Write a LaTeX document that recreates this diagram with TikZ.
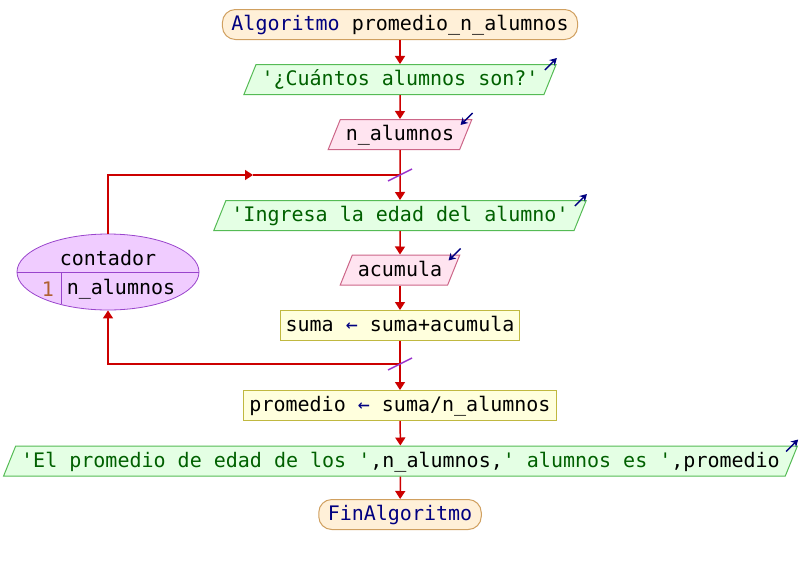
\documentclass[tikz,border=0pt]{standalone}
\usepackage{fontspec}
\setmonofont{DejaVu Sans Mono}
\usetikzlibrary{shapes.geometric,arrows.meta}

\definecolor{flowred}{HTML}{CC0000}
\definecolor{keynavy}{HTML}{000080}
\definecolor{strgreen}{HTML}{006000}
\definecolor{cutpurple}{HTML}{9933CC}
\definecolor{endfill}{HTML}{FFF0D8}
\definecolor{enddraw}{HTML}{D0A060}
\definecolor{outfill}{HTML}{E4FFE4}
\definecolor{outdraw}{HTML}{55BB55}
\definecolor{infill}{HTML}{FFE4F0}
\definecolor{indraw}{HTML}{CC6688}
\definecolor{asgfill}{HTML}{FFFFDD}
\definecolor{asgdraw}{HTML}{C0B840}
\definecolor{cntfill}{HTML}{F0CCFF}
\definecolor{cntdraw}{HTML}{9944CC}
\definecolor{numbrown}{HTML}{B06030}

\begin{document}
\begin{tikzpicture}
[
	x=1pt, y=-1pt,
	font=\ttfamily\fontsize{20}{24}\selectfont,
	box/.style={draw,line width=1pt,text height=16pt,text depth=4pt,inner ysep=5pt,inner xsep=5.5pt},
	endbox/.style={box,rounded corners=13pt,inner xsep=9pt,draw=enddraw,fill=endfill},
	outbox/.style={box,trapezium,trapezium left angle=68,trapezium right angle=112,draw=outdraw,fill=outfill,text=strgreen},
	inbox/.style={box,trapezium,trapezium left angle=68,trapezium right angle=112,draw=indraw,fill=infill},
	asgbox/.style={box,draw=asgdraw,fill=asgfill},
	cntbox/.style={ellipse,draw=cntdraw,fill=cntfill,line width=0.8pt,inner sep=0pt,minimum width=182pt,minimum height=76pt},
	flow/.style={flowred,line width=1.5pt,-{Triangle[length=8pt,width=10pt]}},
	link/.style={flowred,line width=1.5pt},
	cut/.style={cutpurple,line width=1.5pt},
	outmark/.style={keynavy,line width=1.4pt,-{Stealth[length=7pt,width=8pt]}},
]

	\useasboundingbox (0,0) rectangle (800,565);

	% boxes
	\node[endbox] (start) at (400,24.5) {{\color{keynavy}Algoritmo} promedio\_n\_alumnos};
	\node[outbox] (out1) at (400,79.5) {'¿Cuántos alumnos son?'};
	\node[inbox] (in1) at (400,134.5) {n\_alumnos};
	\node[outbox] (out2) at (400,215.5) {'Ingresa la edad del alumno'};
	\node[inbox] (in2) at (400,270) {acumula};
	\node[asgbox] (asig) at (400,325.5) {suma {\color{keynavy}←} suma+acumula};
	\node[asgbox] (prom) at (400,405.5) {promedio {\color{keynavy}←} suma/n\_alumnos};
	\node[outbox] (out3) at (400.5,461) {'El promedio de edad de los '{\color{black},n\_alumnos,}' alumnos es '{\color{black},promedio}};
	\node[endbox] (fin) at (400,514.5) {\color{keynavy}FinAlgoritmo};

	% loop
	\node[cntbox] (cont) at (108,272) {};
	\draw[cntdraw,line width=0.8pt] (cont.west) -- (cont.east);
	\draw[cntdraw,line width=0.8pt] (61,272) -- (61,304);
	\node (contlbl) at (108,258) {contador};
	\node[numbrown] (contini) at (48,289) {1};
	\node (contvar) at (121,289) {n\_alumnos};

	\coordinate (looptop) at (400,175);
	\coordinate (loopbot) at (400,364);
	\coordinate (arrowmid) at (253,175);

	% connectors
	\draw[flow] (start) -- (out1);
	\draw[flow] (out1) -- (in1);
	\draw[link] (in1) -- (looptop);
	\draw[flow] (looptop) -- (out2);
	\draw[flow] (out2) -- (in2);
	\draw[flow] (in2) -- (asig);
	\draw[link] (asig) -- (loopbot);
	\draw[flow] (loopbot) -- (prom);
	\draw[flow] (loopbot) -| (cont);
	\draw[flow] (cont) |- (arrowmid);
	\draw[link] (arrowmid) -- (looptop);
	\draw[flow] (prom) -- (out3);
	\draw[flow] (out3) -- (fin);

	% cuts
	\draw[cut] (looptop) ++(-12,6) -- ++(24,-12);
	\draw[cut] (loopbot) ++(-12,6) -- ++(24,-12);

	% io marks
	\draw[outmark] (out1.top right corner) ++(-12,6) -- ++(12,-12);
	\draw[outmark] (out2.top right corner) ++(-12,6) -- ++(12,-12);
	\draw[outmark] (out3.top right corner) ++(-12,6) -- ++(12,-12);
	\draw[outmark] (in1.top right corner) ++(0,-6) -- ++(-12,12);
	\draw[outmark] (in2.top right corner) ++(0,-6) -- ++(-12,12);

\end{tikzpicture}
\end{document}
